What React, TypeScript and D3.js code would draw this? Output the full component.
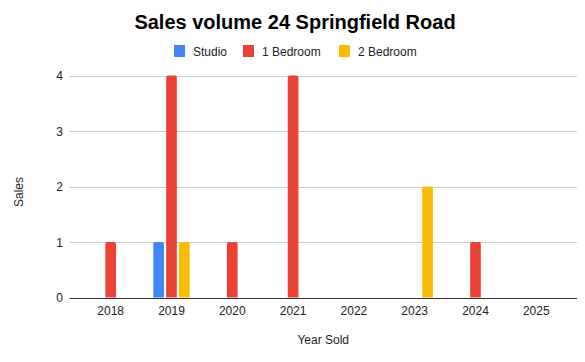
import React, { useEffect, useRef } from "react";
import * as d3 from "d3";

// chart data
const years = ["2018", "2019", "2020", "2021", "2022", "2023", "2024", "2025"];
const seriesNames = ["Studio", "1 Bedroom", "2 Bedroom"];
const studio = [0, 1, 0, 0, 0, 0, 0, 0];
const oneBedroom = [1, 4, 1, 4, 0, 0, 1, 0];
const twoBedroom = [0, 1, 0, 0, 0, 2, 0, 0];
const yTicks = [0, 1, 2, 3, 4];

const colors = ["#4285F4", "#EA4335", "#FBBC04"];
const FONT = "Arial, 'Liberation Sans', sans-serif";

export default function App() {
  const svgRef = useRef<SVGSVGElement>(null);
  const width = 585;
  const height = 362;

  useEffect(() => {
    document.body.style.margin = "0";
    if (!svgRef.current) return;
    const svg = d3.select(svgRef.current);
    svg.selectAll("*").remove();

    const plot = { left: 69.5, right: 577, top: 75.5, bottom: 297.5 };
    const values = [studio, oneBedroom, twoBedroom];

    const x = d3.scaleBand<string>().domain(years).range([80.3, 566.7]).padding(0);
    const inner = d3.scaleBand<string>().domain(seriesNames).range([-18.2, 18.2]).paddingInner(0.17);
    const y = d3.scaleLinear().domain([0, 4]).range([plot.bottom, plot.top]);

    svg.append("rect").attr("width", width).attr("height", height).attr("fill", "#fff");

    // title
    svg.append("text")
      .attr("x", 295)
      .attr("y", 28.5)
      .attr("text-anchor", "middle")
      .attr("font-family", FONT)
      .attr("font-size", 20)
      .attr("font-weight", "bold")
      .attr("fill", "#000")
      .text("Sales volume 24 Springfield Road");

    // legend
    const legendX = [174, 243, 339];
    seriesNames.forEach((name, i) => {
      svg.append("rect")
        .attr("x", legendX[i])
        .attr("y", 45)
        .attr("width", 11)
        .attr("height", 12)
        .attr("fill", colors[i]);
      svg.append("text")
        .attr("x", legendX[i] + 19)
        .attr("y", 55.5)
        .attr("font-family", FONT)
        .attr("font-size", 12)
        .attr("fill", "#222")
        .text(name);
    });

    // gridlines + y labels
    yTicks.forEach(t => {
      if (t !== 0) {
        svg.append("line")
          .attr("x1", plot.left).attr("x2", plot.right)
          .attr("y1", Math.round(y(t)) + 0.5).attr("y2", Math.round(y(t)) + 0.5)
          .attr("stroke", "#ccc").attr("stroke-width", 1);
      }
      svg.append("text")
        .attr("x", 63)
        .attr("y", y(t) + 4.5)
        .attr("text-anchor", "end")
        .attr("font-family", FONT)
        .attr("font-size", 12)
        .attr("fill", "#222")
        .text(String(t));
    });

    // bars with rounded tops
    const r = 2;
    years.forEach((yr, j) => {
      seriesNames.forEach((name, i) => {
        const v = values[i][j];
        if (!v) return;
        const x0 = (x(yr) as number) + x.bandwidth() / 2 + (inner(name) as number);
        const w = inner.bandwidth();
        const top = y(v);
        const bot = y(0);
        const p = d3.path();
        p.moveTo(x0, bot);
        p.lineTo(x0, top + r);
        p.quadraticCurveTo(x0, top, x0 + r, top);
        p.lineTo(x0 + w - r, top);
        p.quadraticCurveTo(x0 + w, top, x0 + w, top + r);
        p.lineTo(x0 + w, bot);
        p.closePath();
        svg.append("path").attr("d", p.toString()).attr("fill", colors[i]);
      });
    });

    // baseline
    svg.append("line")
      .attr("x1", plot.left).attr("x2", plot.right)
      .attr("y1", Math.round(y(0)) + 0.5).attr("y2", Math.round(y(0)) + 0.5)
      .attr("stroke", "#333").attr("stroke-width", 1);

    // x labels
    years.forEach(yr => {
      svg.append("text")
        .attr("x", (x(yr) as number) + x.bandwidth() / 2)
        .attr("y", 314.5)
        .attr("text-anchor", "middle")
        .attr("font-family", FONT)
        .attr("font-size", 12)
        .attr("fill", "#222")
        .text(yr);
    });

    // axis titles
    svg.append("text")
      .attr("x", (plot.left + plot.right) / 2)
      .attr("y", 344)
      .attr("text-anchor", "middle")
      .attr("font-family", FONT)
      .attr("font-size", 12)
      .attr("fill", "#222")
      .text("Year Sold");

    svg.append("text")
      .attr("transform", `translate(23,192) rotate(-90)`)
      .attr("text-anchor", "middle")
      .attr("font-family", FONT)
      .attr("font-size", 12)
      .attr("fill", "#222")
      .text("Sales");
  }, []);

  return (
    <svg ref={svgRef} width={width} height={height} style={{ display: "block" }} />
  );
}
